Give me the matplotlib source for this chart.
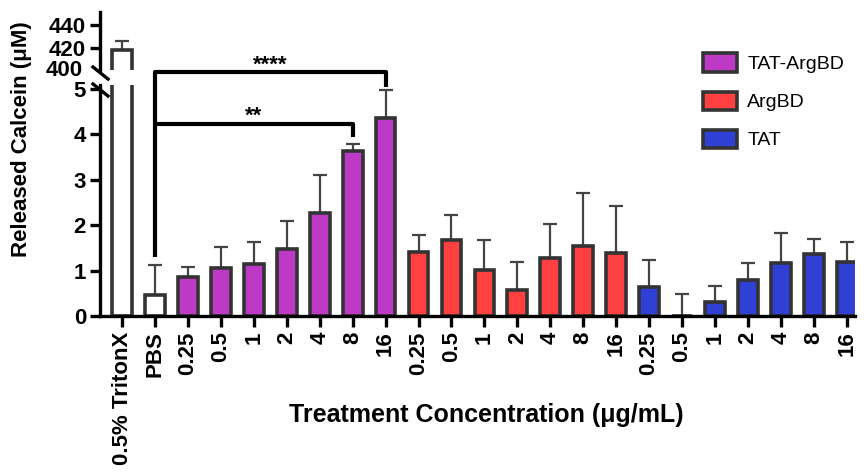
import matplotlib
matplotlib.use("Agg")
import matplotlib.pyplot as plt
from matplotlib.patches import Patch
from matplotlib.lines import Line2D
import numpy as np

plt.rcParams['font.family'] = ['Liberation Sans', 'DejaVu Sans']

# ---- data ----
tick_labels = ["0.5% TritonX", "PBS",
               "0.25", "0.5", "1", "2", "4", "8", "16",
               "0.25", "0.5", "1", "2", "4", "8", "16",
               "0.25", "0.5", "1", "2", "4", "8", "16"]
tritonx_mean = 418.0
tritonx_err = 8.0
pbs_mean = 0.46
pbs_err = 0.66
tat_argbd_mean = [0.86, 1.05, 1.14, 1.47, 2.27, 3.62, 4.35]
tat_argbd_err = [0.22, 0.47, 0.48, 0.62, 0.84, 0.16, 0.62]
argbd_mean = [1.40, 1.67, 1.01, 0.57, 1.27, 1.55, 1.39]
argbd_err = [0.38, 0.55, 0.66, 0.62, 0.76, 1.16, 1.02]
tat_mean = [0.63, 0.01, 0.30, 0.79, 1.17, 1.36, 1.19]
tat_err = [0.60, 0.47, 0.36, 0.38, 0.66, 0.33, 0.44]
series_names = ["TAT-ArgBD", "ArgBD", "TAT"]
series_colors = ["#BD3AC6", "#FF4040", "#3140D4"]
sig_labels = ["**", "****"]

means = [tritonx_mean, pbs_mean] + tat_argbd_mean + argbd_mean + tat_mean
errs = [tritonx_err, pbs_err] + tat_argbd_err + argbd_err + tat_err
colors = ["white", "white"] + [series_colors[0]] * 7 + [series_colors[1]] * 7 + [series_colors[2]] * 7
x = np.arange(len(means))

W, H = 864, 473
fig = plt.figure(figsize=(W / 100, H / 100), dpi=100)

left, right = 100 / W, 855 / W
ax_b = fig.add_axes([left, 1 - 316 / H, right - left, (316 - 85) / H])
ax_t = fig.add_axes([left, 1 - 70 / H, right - left, (70 - 12) / H])
ax_t.patch.set_visible(False)

edge = "#333333"
for ax in (ax_b, ax_t):
    ax.bar(x, means, width=0.6, color=colors, edgecolor=edge, linewidth=2.6, zorder=2)
    ax.errorbar(x, means, yerr=[np.zeros(len(errs)), errs], fmt="none",
                ecolor="#444444", elinewidth=1.6, capsize=5, capthick=1.6, zorder=1)
    ax.set_xlim(-0.67, 22.25)
    for s in ("top", "right"):
        ax.spines[s].set_visible(False)
    ax.spines["left"].set_linewidth(2.4)
    ax.spines["bottom"].set_linewidth(2.4)
    ax.tick_params(axis="y", width=2.4, length=7, pad=3)

ax_b.set_ylim(0, 5.08)
ax_b.set_yticks([0, 1, 2, 3, 4, 5])
ax_b.set_yticklabels(["0", "1", "2", "3", "4", "5"], fontweight="bold", fontsize=16)
ax_b.set_xticks(x)
ax_b.set_xticklabels(tick_labels, rotation=90, fontweight="bold", fontsize=16)
ax_b.tick_params(axis="x", width=2.4, length=8, pad=3)

ax_t.set_ylim(400.5, 451)
ax_t.set_yticks([420, 440])
ax_t.set_yticklabels(["420", "440"], fontweight="bold", fontsize=16)
ax_t.spines["bottom"].set_visible(False)
ax_t.set_xticks([])
fig.text(83 / W, 1 - 70 / H, "400", ha="right", va="center", fontsize=16, fontweight="bold")

# break marks
for yc in (73, 90):
    fig.add_artist(Line2D([93 / W, 108 / W], [1 - (yc - 6) / H, 1 - (yc + 6) / H],
                          color="black", lw=2.4))

# significance brackets (bottom axis data coords)
brk_kw = dict(color="black", lw=3.0, clip_on=False, solid_capstyle="butt", zorder=5)
ax_b.plot([1, 1, 8, 8], [1.30, 5.36, 5.36, 5.03], **brk_kw)
ax_b.plot([1, 7, 7], [4.22, 4.22, 3.93], **brk_kw)
ax_b.text(4.5, 5.52, sig_labels[1], ha="center", va="center", fontsize=16,
          fontweight="bold", clip_on=False)
ax_b.text(4.0, 4.40, sig_labels[0], ha="center", va="center", fontsize=16,
          fontweight="bold", clip_on=False)

# legend
handles = [Patch(facecolor=c, edgecolor=edge, linewidth=2.6) for c in series_colors]
fig.legend(handles, series_names, loc="upper left", bbox_to_anchor=(685 / W, 1 - 36 / H),
           frameon=False, fontsize=14, handlelength=1.75, handleheight=1.05,
           labelspacing=0.95, handletextpad=0.55)

fig.text(22 / W, 1 - 139 / H, "Released Calcein (\u03bcM)", rotation=90, ha="center",
         va="center", fontsize=16, fontweight="bold")
fig.text(486 / W, 1 - 415 / H, "Treatment Concentration (\u03bcg/mL)", ha="center",
         va="center", fontsize=18, fontweight="bold")

fig.savefig("out.png", dpi=100)
